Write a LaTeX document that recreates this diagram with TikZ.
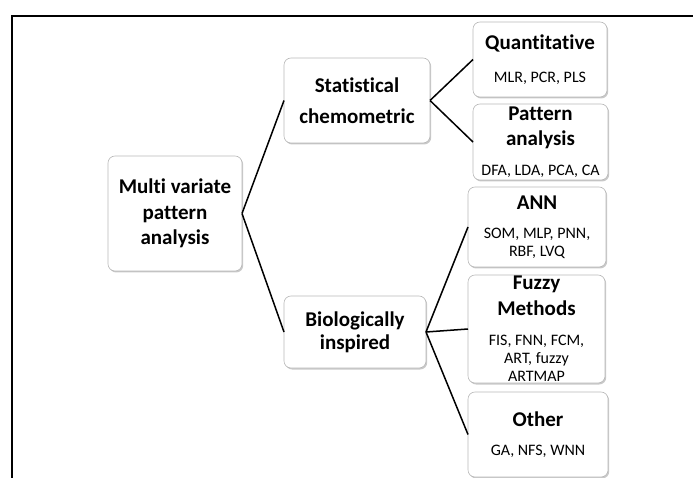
\documentclass[tikz,border=0pt]{standalone}
\usepackage{fontspec}
\setmainfont{Carlito}[Ligatures=NoCommon]
\usepackage[svgnames]{xcolor}
\usetikzlibrary{shadows}

\newcommand{\smalltxt}[1]{{\fontsize{16}{18}\selectfont\mdseries #1}}

\begin{document}
\begin{tikzpicture}[
            x = 1pt, y = -1pt, % picture units
            every edge/.style = {draw, line width=1.5pt},
        ]

        \tikzstyle{box}=[
            draw = gray!55,
            line width = 0.6pt,
            rounded corners = 7pt,
            fill = white,
            drop shadow = {shadow xshift=1.2pt, shadow yshift=-1.5pt,
                           opacity=.3, fill=black!70},
            align = center,
            inner sep = 1pt,
            outer sep = 0pt,
            font = \fontsize{21}{25.5}\selectfont\bfseries
        ]

  \useasboundingbox (0,0) rectangle (693,478);
  \draw[line width=1.7pt] (693,16) -- (12,16) -- (12,478);

  \node[box, minimum width=134pt, minimum height=115pt] (n1) at (175,213.5)
        {Multi variate\\pattern\\analysis};
  \node[box, minimum width=146pt, minimum height=85pt] (n2) at (357,100.5)
        {Statistical\\[6pt]chemometric};
  \node[box, minimum width=142pt, minimum height=72pt] (n3) at (355,332)
        {Biologically\\[-2.5pt]inspired};

  \node[box, minimum width=134pt, minimum height=75pt] (n4) at (540,59.5)
        {Quantitative\\[7pt]\smalltxt{MLR, PCR, PLS}};
  \node[box, minimum width=135pt, minimum height=76pt] (n5) at (540.5,142)
        {Pattern\\analysis\\[4.5pt]\smalltxt{DFA, LDA, PCA, CA}};
  \node[box, minimum width=138pt, minimum height=80pt] (n6) at (537,227)
        {ANN\\[4pt]\smalltxt{SOM, MLP, PNN,}\\[-8pt]\smalltxt{RBF, LVQ}};
  \node[box, minimum width=137pt, minimum height=108pt] (n7) at (536.5,329)
        {Fuzzy\\Methods\\[4.8pt]\smalltxt{FIS, FNN, FCM,}\\[-7.5pt]\smalltxt{ART, fuzzy}\\[-7.5pt]\smalltxt{ARTMAP}};
  \node[box, minimum width=140pt, minimum height=85pt] (n8) at (538,434.5)
        {Other\\[3pt]\smalltxt{GA, NFS, WNN}};

  \path (n1.east) edge (n2.west);
  \path (n1.east) edge (n3.west);
  \path (n2.east) edge (n4.west);
  \path (n2.east) edge (n5.west);
  \path (n3.east) edge (n6.west);
  \path (n3.east) edge (n7.west);
  \path (n3.east) edge (n8.west);

\end{tikzpicture}
\end{document}
